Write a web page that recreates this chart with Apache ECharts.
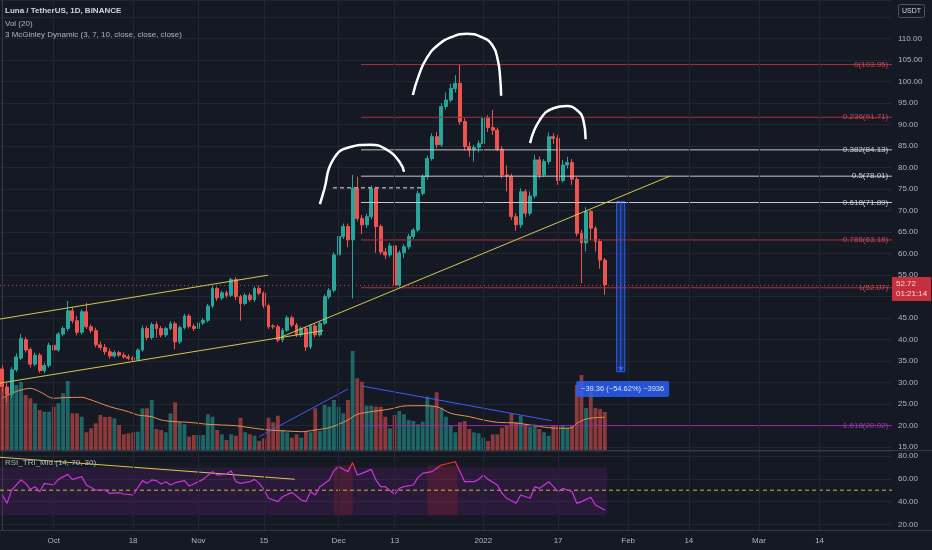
<!DOCTYPE html>
<html>
<head>
<meta charset="utf-8">
<script src="https://cdn.jsdelivr.net/npm/echarts@6/dist/echarts.min.js"></script>
<style>
html,body{margin:0;padding:0;background:#151924;overflow:hidden;}
#chart{width:932px;height:550px;}
</style>
</head>
<body>
<div id="chart"></div>
<script>
// ---------------- data ----------------
const firstDay = '2021-09-20';
const dayCount = 191; // Sep 20 2021 .. Mar 29 2022

const tickDates = ['2021-10-01','2021-10-18','2021-11-01','2021-11-15','2021-12-01','2021-12-13','2022-01-01','2022-01-17','2022-02-01','2022-02-14','2022-03-01','2022-03-14'];
const tickLabels = ['Oct','18','Nov','15','Dec','13','2022','17','Feb','14','Mar','14'];

// daily candles from 2021-09-20 to 2022-01-27
const priceOpen = [33.2,29.0,27.3,33.0,35.7,40.0,37.7,34.3,36.4,32.8,34.0,
38.7,37.6,41.3,42.6,46.7,44.4,41.7,46.5,43.0,42.1,38.8,38.2,37.2,36.2,37.0,36.4,36.0,35.7,35.4,37.6,42.6,40.5,43.5,42.6,41.1,42.6,43.7,39.5,42.8,45.5,
43.1,42.6,43.9,44.5,47.8,51.9,49.7,50.9,50.3,54.0,50.0,48.4,50.3,49.3,51.9,50.8,47.9,43.2,43.0,39.9,42.2,45.1,43.4,41.1,42.6,38.3,43.2,41.1,43.8,50.0,51.5,
59.7,64.0,66.3,63.2,75.2,68.2,66.7,68.6,75.2,66.3,60.4,59.7,61.8,52.7,60.2,61.6,64.0,65.5,74.0,77.9,82.1,87.2,85.3,94.2,95.7,98.4,99.6,90.7,84.9,84.1,84.7,
85.6,91.5,89.3,88.7,84.3,78.3,78.0,68.6,66.7,74.4,69.4,73.4,81.8,78.3,81.4,87.2,86.8,77.0,80.6,81.2,77.3,64.7,62.5,69.8,65.9,62.8,58.5];
const priceClose = [29.0,27.3,33.0,36.0,40.3,37.6,34.3,36.4,32.8,34.0,38.7,
37.6,41.3,42.6,46.7,44.4,41.7,46.5,43.0,42.1,38.8,38.2,37.2,36.2,37.0,36.4,36.0,35.7,35.4,37.6,42.6,40.5,43.5,42.6,41.1,42.6,43.7,39.5,42.8,45.5,43.1,
42.6,43.9,44.5,47.8,51.9,49.7,50.9,50.3,54.0,50.0,48.4,50.3,49.3,51.9,50.8,47.9,43.0,43.0,39.9,42.2,45.1,43.4,41.1,42.6,38.3,43.2,41.1,43.8,50.0,51.5,59.7,
64.0,66.3,63.2,75.2,68.2,66.7,68.6,75.2,66.3,60.4,59.7,61.8,52.7,60.2,61.6,64.0,65.5,74.0,77.9,82.1,87.2,85.3,94.2,95.7,98.4,99.6,90.7,84.9,84.1,84.7,85.6,
91.5,89.3,88.7,84.3,78.3,78.0,68.6,66.7,74.4,69.4,73.4,81.8,78.3,81.4,87.2,86.8,77.0,80.6,81.2,77.3,64.7,62.5,69.8,65.9,62.8,58.5,52.72];
const priceLow = [28.0,25.5,26.5,32.5,35.3,37.0,33.5,33.8,32.3,32.2,33.5,
37.0,37.2,40.8,42.0,43.8,41.0,41.2,42.5,41.5,38.2,37.6,36.5,35.6,35.8,36.0,35.6,35.2,35.0,35.0,37.2,39.8,40.0,40.5,40.5,40.6,42.2,37.8,39.0,42.4,42.6,
42.0,42.2,43.4,44.0,47.3,49.0,49.2,49.7,49.9,49.2,44.4,48.0,48.8,48.8,50.3,47.3,42.5,42.5,39.4,39.4,41.8,42.9,40.6,40.6,37.4,37.8,40.5,40.7,43.4,49.4,51.0,
59.2,63.4,61.5,49.6,67.5,64.5,66.0,68.0,60.2,59.8,58.8,59.2,52.07,52.3,59.0,61.0,63.4,65.0,73.5,77.2,81.6,84.5,84.8,93.5,95.2,97.5,90.0,84.0,82.5,81.4,83.5,
84.8,88.3,87.6,83.8,77.5,74.5,67.8,65.3,66.0,68.5,68.8,72.8,77.5,77.8,80.8,85.5,76.0,76.5,79.8,76.0,64.0,53.1,60.5,63.2,60.5,56.5,50.4];
const priceHigh = [34.0,30.0,33.6,36.8,41.3,40.6,38.2,37.0,36.9,34.6,39.3,
39.8,41.8,43.1,49.0,47.5,45.5,47.0,48.6,43.6,42.8,39.6,39.0,38.0,37.5,37.4,37.0,36.6,36.2,38.0,43.3,43.2,44.0,44.2,43.2,43.0,44.3,44.2,43.3,46.0,46.0,
43.7,44.4,45.0,48.3,52.5,52.3,51.4,51.4,54.4,54.5,50.5,50.8,50.9,52.4,52.6,51.2,48.4,43.6,43.5,42.7,45.6,45.6,43.9,43.1,43.0,43.7,43.8,44.2,50.5,52.0,60.3,
64.8,67.0,67.0,78.3,77.9,69.0,69.3,75.8,75.6,66.8,61.3,62.5,62.3,60.8,62.2,64.6,66.0,74.6,78.5,82.8,88.0,88.3,95.0,97.5,99.5,101.5,103.95,91.5,86.0,85.3,86.3,
93.8,92.2,93.4,89.3,85.0,80.5,78.6,69.4,75.2,75.0,74.5,83.0,82.6,82.0,88.2,88.0,87.6,81.8,82.5,82.0,77.8,65.5,70.8,70.2,66.4,63.4,59.0];
const volume = [61.7,55,55,65,68,55,51.7,46.7,40,38.3,
38.3,43.3,46.7,56.7,69,36.7,36.7,33.3,17.7,21.7,
26.7,35,33,33.3,31.7,25,15.7,16.7,17.7,18.3,
41.7,41.7,50,21,20,17.7,36.7,47.7,27.7,25.7,
13.3,15,15,15,35.7,33.3,20,15.7,10,15.7,
14.3,32.3,17.7,15.7,14.3,9,11.7,32.3,27.7,34.3,
20,17.7,12.3,15.7,12.3,19,17.7,41.7,19,45,
43.3,50,43.3,36.7,50,99,71.7,68.3,44.3,44.3,
43.3,43.3,33.3,21.7,35,39,35.7,30,29,25.7,
28.3,53.3,44.3,57.7,42.3,33.3,24.3,17.7,27.7,29,
21,17.7,16.7,12.3,9,15.7,15.7,22.3,24.3,36.7,
27.7,34.3,25.7,23.3,25.7,21,17.7,14.3,24.3,24.3,
24.3,22.3,25,65,75,42,58,42,41,38];
const volMaDay = [0,2,4,6,8,11,13,17,18,21,23,27,29,32,34,37,40,44,47,50,54,57,61,64,67,70,72,74,76,79,83,86,89,93,96,100,103,106,110,113,117,120,122,123,125,127,129];
const volMaValue = [51.7,56.7,60,61.7,58.3,51.7,52.3,52.7,51.7,46.7,43.3,38.3,35,33.3,30,28.3,27.7,25.7,25,24.3,21.7,20,19,18.3,20,22.3,25.7,30,35.7,38.3,41,44,44.3,43.3,36.7,33.3,30,27.7,27,25,22.3,21.7,22.3,26.7,31,32.3,32.7];
const rsiDay = [0,1,2,4,5,6,7,8,9,11,12,14,15,17,18,20,22,23,25,26,28,30,31,32,33,34,35,36,37,39,40,41,43,45,46,48,49,50,51,53,54,55,56,57,59,60,62,63,64,65,66,67,68,70,71,72,74,75,76,77,79,80,81,82,84,85,86,88,89,90,92,93,94,95,97,98,99,101,102,103,104,106,107,108,110,111,113,114,115,117,119,120,122,123,124,126,127,129];
const rsiValue = [45.8,38.5,50.2,59.0,56.0,50.8,53.1,48.7,56.0,54.6,59.5,63.9,59.5,61.9,54.6,50.2,50.2,47.2,47.8,46.7,45.8,58.4,56.0,59.0,58.4,55.4,57.5,54.6,56.6,58.4,53.7,55.4,59.5,66.3,63.3,64.2,67.1,57.5,56.0,57.5,59.5,56.0,50.8,42.9,40.0,44.3,48.1,44.9,41.4,40.0,48.7,45.8,53.1,59.0,67.1,70.6,66.3,74.2,63.3,64.8,68.3,59.0,53.1,53.1,46.4,51.6,53.1,54.6,61.3,64.8,66.3,69.2,72.1,73.0,75.0,66.3,57.5,57.5,59.5,63.3,59.5,54.6,47.2,42.9,38.5,45.8,42.9,53.1,51.6,57.5,48.7,51.6,48.7,38.5,40.0,43.8,37.0,32.6];

// drawings (day index from Sep 20, price)
const fibLevels = [0, 0.236, 0.382, 0.5, 0.618, 0.786, 1, 1.618];
const fibPrices = [103.95, 91.71, 84.13, 78.01, 71.89, 63.18, 52.07, 20.02];
const fibFromDay = 76.8;
const channelUpper = [[-0.5, 44.8], [56.9, 55.0]];
const channelLower = [[-0.5, 29.9], [68.7, 42.1]];
const trendLine = [[59.7, 40.6], [143.0, 78.05]];
const neckline = [[70.8, 75.3], [90.1, 75.3]];
const arcLeft = [[68.0,71.5],[68.9,74.8],[70.8,81.8],[74.5,84.8],[78.7,85.3],[82.4,84.1],[85.2,81.1],[86.0,79.0]];
const arcTop = [[87.9,96.9],[89.2,101.5],[90.9,105.5],[93.3,108.5],[96.3,110.4],[99.5,111.1],[102.5,110.4],[104.9,108.5],[106.1,105.0],[106.6,100.8],[106.8,96.7]];
const arcRight = [[113.0,85.7],[115.1,91.1],[118.0,93.8],[120.9,94.3],[123.0,93.4],[124.4,91.1],[124.9,86.6]];
const volTrendUp = [[55.0, 13.3], [74.0, 61]];
const volTrendDown = [[77.0, 64], [117.6, 29.3]];
const rsiTrend = [[-0.5, 78.9], [62.6, 59.6]];
const rsiBand = [28, 70];
const rsiHotZones = [[71, 75], [91, 97.5]];
const measureDays = [131.55, 133.3];
const measurePrices = [72.08, 32.55];
const measureText = '\u221239.36 (\u221254.62%) \u22123936';
const measureLabelAt = [122.84, 28.53];
const lastPrice = 52.72;
const countdown = '01:21:14';

// ---------------- chart ----------------
const dates = [];
{
  const t0 = Date.parse(firstDay + 'T00:00:00Z');
  for (let k = 0; k < dayCount; k++) dates.push(new Date(t0 + k * 86400000).toISOString().slice(0, 10));
}
const tickMap = {};
tickDates.forEach((d, i) => { tickMap[d] = tickLabels[i]; });
const tickDayIdx = tickDates.map(d => dates.indexOf(d));

const FONT = 'Liberation Sans, Arial, sans-serif';
const BG = '#151924';
const GRID = '#222633';
const SEP = '#363a45';
const TXT = '#b2b5be';
const UP = '#26a69a', DOWN = '#ef5350';
const XMIN = -0.5, XMAX = dayCount - 0.5;

const candleData = priceOpen.map((o, i) => [o, priceClose[i], priceLow[i], priceHigh[i]]);
const volData = volume.map((v, i) => ({
  value: v,
  itemStyle: { color: priceClose[i] >= priceOpen[i] ? 'rgba(38,166,154,0.55)' : 'rgba(239,83,80,0.55)' }
}));

const redLevels = [0, 0.236, 0.786, 1];
function fibLineColor(lv) { return lv === 1.618 ? '#9c27b0' : (redLevels.includes(lv) ? '#a8323c' : '#c4c6cc'); }
function fibTextColor(lv) { return lv === 1.618 ? '#b040c8' : (redLevels.includes(lv) ? '#f0505c' : '#f0f1f4'); }

const vGridMark = {
  silent: true, symbol: ['none', 'none'], label: { show: false }, animation: false,
  lineStyle: { color: GRID, width: 1, type: 'solid' }, data: tickDayIdx.map(k => ({ xAxis: k }))
};

const series = [];
// vertical grid lines (price pane)
series.push({ type: 'line', xAxisIndex: 1, yAxisIndex: 0, data: [], silent: true, z: 0, markLine: vGridMark });
// volume
series.push({ type: 'bar', xAxisIndex: 2, yAxisIndex: 1, data: volData, barCategoryGap: '18%', silent: true, z: 1 });
series.push({ type: 'line', xAxisIndex: 3, yAxisIndex: 1, data: volMaDay.map((d, i) => [d, volMaValue[i]]), symbol: 'none', smooth: 0.3, silent: true, z: 2, lineStyle: { color: '#e8904f', width: 1 } });
[volTrendUp, volTrendDown].forEach(seg => series.push({ type: 'line', xAxisIndex: 3, yAxisIndex: 1, data: seg, symbol: 'none', silent: true, z: 2, lineStyle: { color: '#3d5afe', width: 1 } }));
// candles
series.push({
  type: 'candlestick', xAxisIndex: 0, yAxisIndex: 0, data: candleData, barWidth: '72%', z: 3,
  itemStyle: { color: UP, color0: DOWN, borderColor: UP, borderColor0: DOWN, borderWidth: 1 },
  markLine: {
    silent: true, symbol: ['none', 'none'], animation: false,
    data: [{ yAxis: lastPrice }],
    lineStyle: { color: DOWN, type: [1, 3], width: 1, opacity: 0.8 },
    label: { show: true, position: 'end', distance: 0, offset: [0, 4], formatter: lastPrice.toFixed(2) + '\n' + countdown,
      backgroundColor: '#f23645', color: '#ffffff', fontSize: 8, lineHeight: 10, padding: [2, 4, 2, 4], fontFamily: FONT }
  }
});
// fib levels
fibLevels.forEach((lv, i) => series.push({
  type: 'line', xAxisIndex: 1, yAxisIndex: 0, data: [[fibFromDay, fibPrices[i]], [XMAX, fibPrices[i]]],
  symbol: 'none', silent: true, z: 4, lineStyle: { color: fibLineColor(lv), width: 1 }
}));
series.push({
  type: 'scatter', xAxisIndex: 1, yAxisIndex: 0, symbolSize: 0, silent: true, z: 6,
  data: fibLevels.map((lv, i) => ({ value: [XMAX - 0.6, fibPrices[i]], name: lv + '(' + fibPrices[i].toFixed(2) + ')', label: { color: fibTextColor(lv) } })),
  label: { show: true, position: 'left', distance: 1, formatter: p => p.name, fontSize: 8, fontFamily: FONT }
});
// trend lines
[channelUpper, channelLower, trendLine].forEach(seg => series.push({
  type: 'line', xAxisIndex: 1, yAxisIndex: 0, data: seg, symbol: 'none', silent: true, z: 5, lineStyle: { color: '#d4c84e', width: 1 }
}));
series.push({ type: 'line', xAxisIndex: 1, yAxisIndex: 0, data: neckline, symbol: 'none', silent: true, z: 5, lineStyle: { color: '#a0a3ab', width: 1.5, type: [4, 3] } });
// hand drawn arcs
[arcLeft, arcTop, arcRight].forEach(seg => series.push({
  type: 'line', xAxisIndex: 1, yAxisIndex: 0, data: seg, symbol: 'none', smooth: 0.5, silent: true, z: 6, lineStyle: { color: '#ffffff', width: 2.5 }
}));
// measurement
const midDay = (measureDays[0] + measureDays[1]) / 2;
series.push({
  type: 'line', xAxisIndex: 1, yAxisIndex: 0, silent: true, z: 6,
  data: [{ value: [midDay, measurePrices[0]], symbol: 'none' }, { value: [midDay, measurePrices[1] + 0.6], symbol: 'triangle', symbolSize: [6, 5], symbolRotate: 180 }],
  showSymbol: true, itemStyle: { color: '#2962ff' }, lineStyle: { color: '#2962ff', width: 1 },
  markArea: { silent: true, itemStyle: { color: 'rgba(41,98,255,0.25)', borderColor: '#2962ff', borderWidth: 1 },
    data: [[{ coord: [measureDays[0], measurePrices[0]] }, { coord: [measureDays[1], measurePrices[1]] }]] }
});
series.push({
  type: 'scatter', xAxisIndex: 1, yAxisIndex: 0, symbolSize: 0, silent: true, z: 7,
  data: [{ value: measureLabelAt, name: measureText }],
  label: { show: true, position: 'right', distance: 0, formatter: p => p.name, color: '#ffffff', fontSize: 7.5, fontFamily: FONT,
    backgroundColor: '#2962ff', padding: [4, 5, 4, 5], borderRadius: 2 }
});
// RSI pane
series.push({ type: 'line', xAxisIndex: 5, yAxisIndex: 2, data: [], silent: true, z: 0, markLine: vGridMark });
series.push({
  type: 'line', xAxisIndex: 5, yAxisIndex: 2, data: [[XMIN, 50], [XMAX, 50]], symbol: 'none', silent: true, z: 1,
  lineStyle: { color: '#c9b93f', width: 1, type: [4, 3] },
  markArea: { silent: true, data: [
    [{ coord: [XMIN, rsiBand[1]], itemStyle: { color: 'rgba(156,39,176,0.16)' } }, { coord: [priceOpen.length - 0.5, rsiBand[0]] }],
    [{ coord: [rsiHotZones[0][0], rsiBand[1] + 2], itemStyle: { color: 'rgba(200,40,40,0.2)' } }, { coord: [rsiHotZones[0][1], rsiBand[0]] }],
    [{ coord: [rsiHotZones[1][0], rsiBand[1] + 2], itemStyle: { color: 'rgba(200,40,40,0.2)' } }, { coord: [rsiHotZones[1][1], rsiBand[0]] }]
  ] }
});
series.push({ type: 'line', xAxisIndex: 5, yAxisIndex: 2, data: rsiTrend, symbol: 'none', silent: true, z: 2, lineStyle: { color: '#d4c84e', width: 1 } });
const rsiIndex = series.length;
series.push({ type: 'line', xAxisIndex: 5, yAxisIndex: 2, data: rsiDay.map((d, i) => [d, rsiValue[i]]), symbol: 'none', silent: true, z: 3, lineStyle: { width: 1.2 } });

const option = {
  backgroundColor: BG,
  animation: false,
  textStyle: { fontFamily: FONT },
  grid: [
    { left: 0, right: 40, top: 0, height: 450, containLabel: false, outerBoundsMode: 'none' },
    { left: 0, right: 40, top: 350, height: 100, containLabel: false, outerBoundsMode: 'none' },
    { left: 0, right: 40, top: 451, height: 79, containLabel: false, outerBoundsMode: 'none' }
  ],
  visualMap: { type: 'piecewise', show: false, seriesIndex: rsiIndex, dimension: 1,
    pieces: [{ min: 70, max: 100, color: '#ff2b2b' }, { min: 0, max: 70, color: '#cc33dd' }] },
  xAxis: [
    { type: 'category', gridIndex: 0, data: dates, boundaryGap: true, axisLabel: { show: false }, axisTick: { show: false }, axisLine: { show: false }, splitLine: { show: false } },
    { type: 'value', gridIndex: 0, min: XMIN, max: XMAX, show: false },
    { type: 'category', gridIndex: 1, data: dates, boundaryGap: true, show: false },
    { type: 'value', gridIndex: 1, min: XMIN, max: XMAX, show: false },
    { type: 'category', gridIndex: 2, data: dates, boundaryGap: true, axisTick: { show: false }, axisLine: { show: false }, splitLine: { show: false },
      axisLabel: { interval: (idx, val) => tickMap[val] !== undefined, formatter: v => tickMap[v] || '', color: TXT, fontSize: 8, margin: 7, fontFamily: FONT } },
    { type: 'value', gridIndex: 2, min: XMIN, max: XMAX, show: false }
  ],
  yAxis: [
    { type: 'value', gridIndex: 0, position: 'right', min: 14.35, max: 118.97, splitNumber: 21, minInterval: 5, maxInterval: 5,
      axisLine: { show: true, lineStyle: { color: SEP } }, axisTick: { show: false },
      axisLabel: { color: TXT, fontSize: 8, margin: 6, fontFamily: FONT, showMinLabel: false, showMaxLabel: false,
        formatter: v => (Math.abs(v - 50) < 1e-6 || Math.abs(v - 115) < 1e-6) ? '' : v.toFixed(2) },
      splitLine: { show: true, lineStyle: { color: GRID, width: 1 } } },
    { type: 'value', gridIndex: 1, min: 0, max: 100, show: false },
    { type: 'value', gridIndex: 2, position: 'right', min: 15.1, max: 84.4, splitNumber: 3, minInterval: 20, maxInterval: 20,
      axisLine: { show: true, lineStyle: { color: SEP } }, axisTick: { show: false },
      axisLabel: { color: TXT, fontSize: 8, margin: 6, fontFamily: FONT, showMinLabel: false, showMaxLabel: false, formatter: v => v.toFixed(2) },
      splitLine: { show: true, lineStyle: { color: GRID, width: 1 } } }
  ],
  graphic: [
    { type: 'line', silent: true, z: 10, shape: { x1: 0, y1: 450.5, x2: 932, y2: 450.5 }, style: { stroke: SEP, lineWidth: 1 } },
    { type: 'line', silent: true, z: 10, shape: { x1: 0, y1: 530.5, x2: 932, y2: 530.5 }, style: { stroke: SEP, lineWidth: 1 } },
    { type: 'text', silent: true, z: 10, left: 5, top: 7, style: { text: 'Luna / TetherUS, 1D, BINANCE', fill: '#d1d4dc', font: 'bold 8px ' + FONT } },
    { type: 'text', silent: true, z: 10, left: 5, top: 19.5, style: { text: 'Vol (20)', fill: '#b2b5be', font: '8px ' + FONT } },
    { type: 'text', silent: true, z: 10, left: 5, top: 31, style: { text: '3 McGinley Dynamic (3, 7, 10, close, close, close)', fill: '#b2b5be', font: '8px ' + FONT } },
    { type: 'text', silent: true, z: 10, left: 5, top: 458.5, style: { text: 'RSI_TRI_Mid (14, 70, 30)', fill: '#b2b5be', font: '8px ' + FONT } },
    { type: 'group', left: 898, top: 4, z: 10, silent: true, children: [
      { type: 'rect', shape: { x: 0, y: 0, width: 26, height: 13, r: 2 }, style: { fill: BG, stroke: '#50535e', lineWidth: 1 } },
      { type: 'text', style: { text: 'USDT', x: 13, y: 6.5, align: 'center', verticalAlign: 'middle', fill: '#d1d4dc', font: '7px ' + FONT } }
    ] }
  ],
  series: series
};

const chart = echarts.init(document.getElementById('chart'), null, { renderer: 'canvas' });
chart.setOption(option);
</script>
</body>
</html>
